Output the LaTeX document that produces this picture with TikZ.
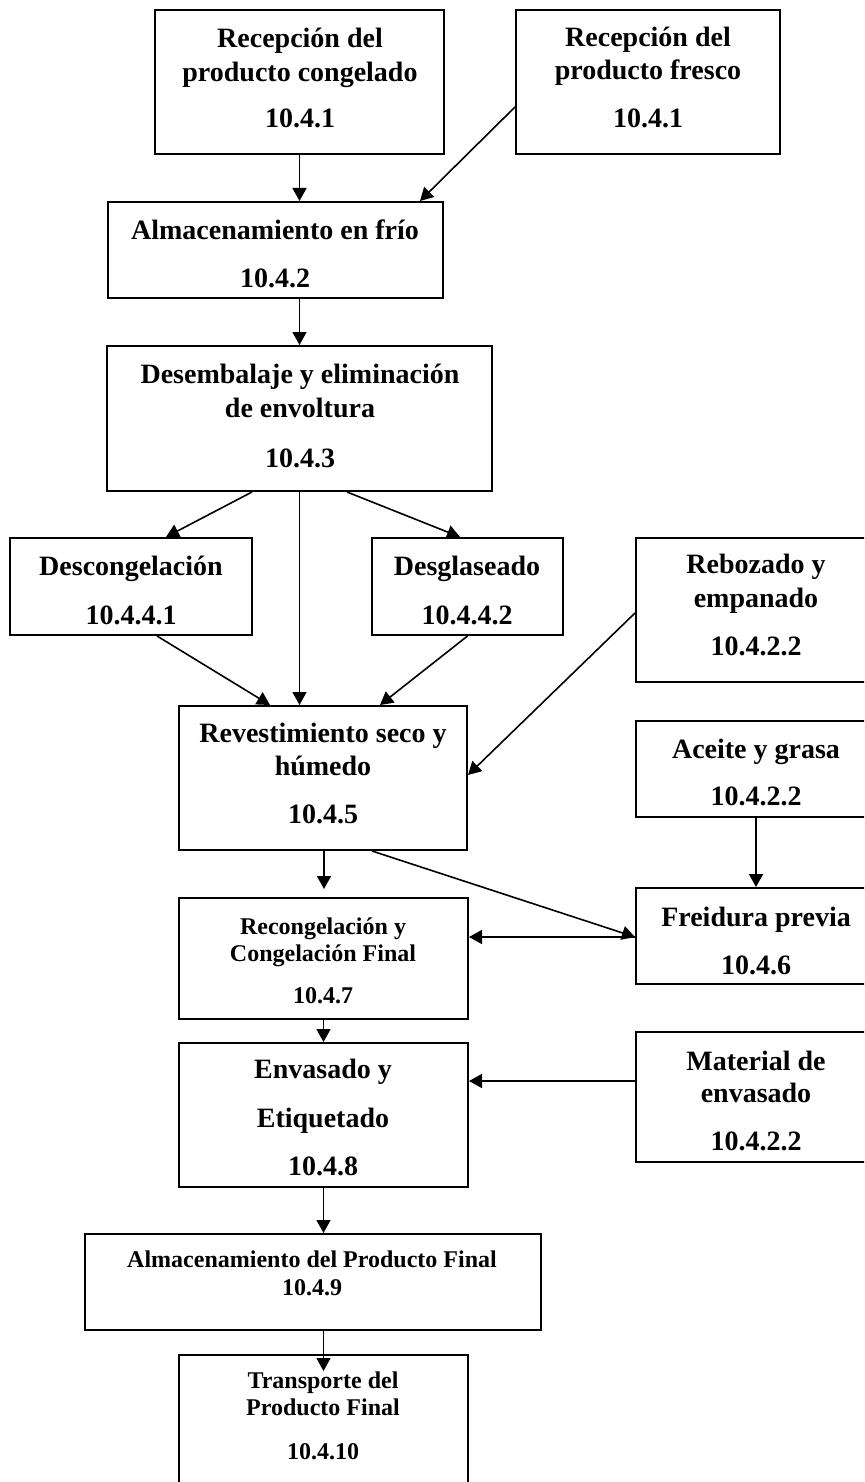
\documentclass[tikz,border=0pt]{standalone}
\usepackage{fontspec}
\setmainfont{Liberation Serif}
\usetikzlibrary{arrows.meta,fit,calc}
\begin{document}
\begin{tikzpicture}[x=0.5pt,y=-0.5pt,
  box/.style={draw, line width=1pt, inner sep=0pt},
  big/.style={font=\fontsize{14}{16}\selectfont\bfseries, inner sep=0pt, anchor=base},
  small/.style={font=\fontsize{12}{14}\selectfont\bfseries, inner sep=0pt, anchor=base},
  conn/.style={line width=0.8pt, -{Triangle[length=6.5pt,width=7pt]}}]
\useasboundingbox (0,0) rectangle (864,1482);
\clip (0,0) rectangle (864,1482);
% boxes
\node[box, fit={(155,10)(444,154)}] (rc) {};
\node[box, fit={(516,10)(780,154)}] (rf) {};
\node[box, fit={(108,202)(443,298)}] (af) {};
\node[box, fit={(107,346)(492,491)}] (de) {};
\node[box, fit={(10,538)(252,635)}] (dc) {};
\node[box, fit={(372,538)(563,635)}] (dg) {};
\node[box, fit={(636,538)(876,682)}] (rb) {};
\node[box, fit={(179,706)(467,850)}] (rv) {};
\node[box, fit={(636,721)(876,817)}] (ac) {};
\node[box, fit={(636,888)(876,984)}] (fr) {};
\node[box, fit={(179,898)(468,1019)}] (rg) {};
\node[box, fit={(179,1043)(468,1187)}] (en) {};
\node[box, fit={(636,1032)(876,1162)}] (me) {};
\node[box, fit={(85,1234)(541,1330)}] (ap) {};
\node[box, fit={(179,1355)(468,1510)}] (tr) {};
% texts
\node[big] (rc1) at (300,48) {Recepción del};
\node[big] (rc2) at (300,82) {producto congelado};
\node[big] (rc3) at (300,128) {10.4.1};
\node[big] (rf1) at (648,47) {Recepción del};
\node[big] (rf2) at (648,80) {producto fresco};
\node[big] (rf3) at (648,128) {10.4.1};
\node[big] (af1) at (275,240) {Almacenamiento en frío};
\node[big] (af2) at (275,287) {10.4.2};
\node[big] (de1) at (300,383) {Desembalaje y eliminación};
\node[big] (de2) at (300,417) {de envoltura};
\node[big] (de3) at (300,467) {10.4.3};
\node[big] (dc1) at (131,575) {Descongelación};
\node[big] (dc2) at (131,624) {10.4.4.1};
\node[big] (dg1) at (467,575) {Desglaseado};
\node[big] (dg2) at (467,624) {10.4.4.2};
\node[big] (rb1) at (756,573) {Rebozado y};
\node[big] (rb2) at (756,607) {empanado};
\node[big] (rb3) at (756,655) {10.4.2.2};
\node[big] (rv1) at (323,742) {Revestimiento seco y};
\node[big] (rv2) at (323,775) {húmedo};
\node[big] (rv3) at (323,823) {10.4.5};
\node[big] (ac1) at (756,758) {Aceite y grasa};
\node[big] (ac2) at (756,805) {10.4.2.2};
\node[big] (fr1) at (756,926) {Freidura previa};
\node[big] (fr2) at (756,974) {10.4.6};
\node[small] (rg1) at (323,934) {Recongelación y};
\node[small] (rg2) at (323,961) {Congelación Final};
\node[small] (rg3) at (323,1003) {10.4.7};
\node[big] (en1) at (323,1078) {Envasado y};
\node[big] (en2) at (323,1127) {Etiquetado};
\node[big] (en3) at (323,1175) {10.4.8};
\node[big] (me1) at (756,1070) {Material de};
\node[big] (me2) at (756,1102) {envasado};
\node[big] (me3) at (756,1150) {10.4.2.2};
\node[small] (ap1) at (312,1267) {Almacenamiento del Producto Final};
\node[small] (ap2) at (312,1295) {10.4.9};
\node[small] (tr1) at (323,1388) {Transporte del};
\node[small] (tr2) at (323,1415) {Producto Final};
\node[small] (tr3) at (323,1459) {10.4.10};
% connectors
\draw[conn] (rc.south) -- (rc.south |- af.north);
\draw[conn] ($(rf.west)+(0,25)$) -- ($(af.north)+(144.5,0)$);
\draw[conn] (de.north |- af.south) -- (de.north);
\draw[conn] ($(de.south)+(-47.5,0)$) -- ($(dc.north)+(35,0)$);
\draw[conn] ($(de.south)+(47.5,0)$) -- ($(dg.north)+(-7.5,0)$);
\draw[conn] (de.south) -- (de.south |- rv.north);
\draw[conn] ($(dc.south)+(26,0)$) -- ($(rv.north)+(-53,0)$);
\draw[conn] (dg.south) -- ($(rv.north)+(57,0)$);
\draw[conn] ($(rb.west)+(0,3)$) -- ($(rv.east)+(0,-3)$);
\coordinate (rvtip) at ($(rv.south)+(1,38)$);
\draw[conn] ($(rv.south)+(1,0)$) -- (rvtip);
\coordinate (frin) at ($(fr.west)+(0,1)$);
\draw[conn] ($(rv.south)+(49,0)$) -- (frin);
\draw[conn] (frin) -- (frin -| rg.east);
\draw[conn] (ac.south) -- (fr.north);
\draw[conn] (rg.south) -- (en.north);
\coordinate (mein) at ($(me.west)+(0,-16)$);
\draw[conn] (mein) -- (mein -| en.east);
\draw[conn] (en.south) -- (en.south |- ap.north);
\coordinate (trtip) at ($(tr.north)+(0,17)$);
\draw[conn] (en.south |- ap.south) -- (trtip);
\end{tikzpicture}
\end{document}
